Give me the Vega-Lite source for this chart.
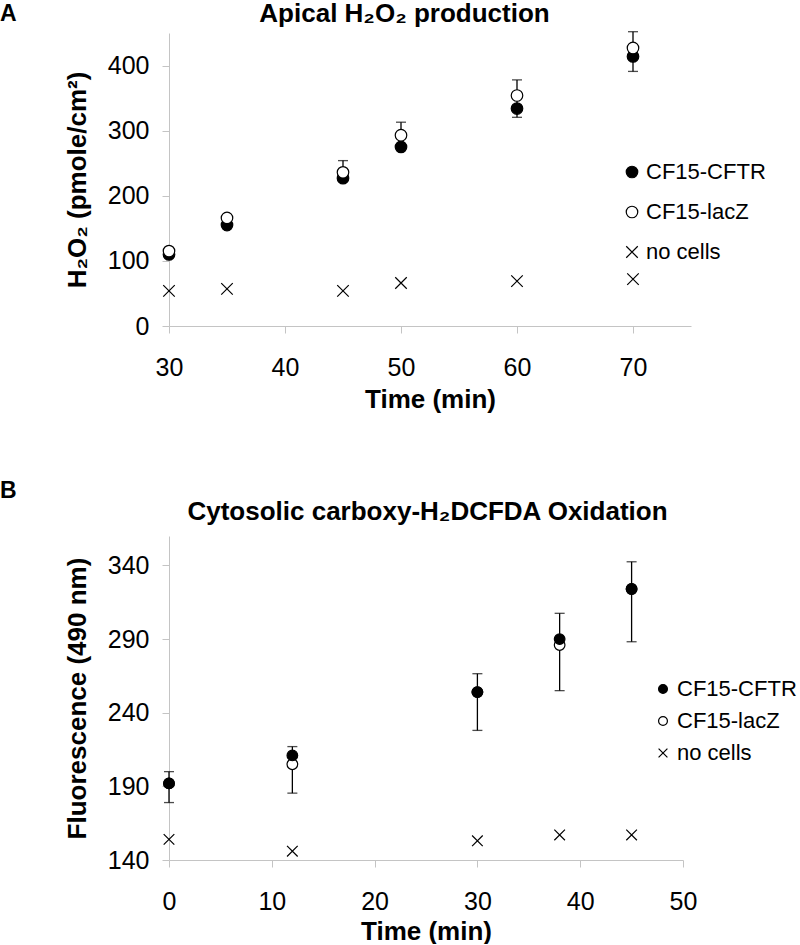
{
  "$schema": "https://vega.github.io/schema/vega-lite/v6.json",
  "background": "white",
  "padding": 0,
  "datasets": {
    "ptsA": [
      {"time": 30, "series": "CF15-CFTR", "value": 110},
      {"time": 35, "series": "CF15-CFTR", "value": 155},
      {"time": 45, "series": "CF15-CFTR", "value": 227},
      {"time": 50, "series": "CF15-CFTR", "value": 275},
      {"time": 60, "series": "CF15-CFTR", "value": 334},
      {"time": 70, "series": "CF15-CFTR", "value": 414},
      {"time": 30, "series": "CF15-lacZ", "value": 115},
      {"time": 35, "series": "CF15-lacZ", "value": 166},
      {"time": 45, "series": "CF15-lacZ", "value": 236},
      {"time": 50, "series": "CF15-lacZ", "value": 293},
      {"time": 60, "series": "CF15-lacZ", "value": 354},
      {"time": 70, "series": "CF15-lacZ", "value": 427},
      {"time": 30, "series": "no cells", "value": 54},
      {"time": 35, "series": "no cells", "value": 57},
      {"time": 45, "series": "no cells", "value": 54},
      {"time": 50, "series": "no cells", "value": 66},
      {"time": 60, "series": "no cells", "value": 69},
      {"time": 70, "series": "no cells", "value": 72}
    ],
    "errA": [
      {"time": 45, "lo": 236, "hi": 254},
      {"time": 50, "lo": 293, "hi": 313},
      {"time": 60, "lo": 320.5, "hi": 378},
      {"time": 70, "lo": 391, "hi": 452}
    ],
    "ptsB": [
      {"time": 0, "series": "CF15-lacZ", "value": 192},
      {"time": 12, "series": "CF15-lacZ", "value": 205},
      {"time": 30, "series": "CF15-lacZ", "value": 254},
      {"time": 38, "series": "CF15-lacZ", "value": 286},
      {"time": 45, "series": "CF15-lacZ", "value": 324},
      {"time": 0, "series": "CF15-CFTR", "value": 192},
      {"time": 12, "series": "CF15-CFTR", "value": 211},
      {"time": 30, "series": "CF15-CFTR", "value": 254},
      {"time": 38, "series": "CF15-CFTR", "value": 290},
      {"time": 45, "series": "CF15-CFTR", "value": 324},
      {"time": 0, "series": "no cells", "value": 154},
      {"time": 12, "series": "no cells", "value": 146},
      {"time": 30, "series": "no cells", "value": 153},
      {"time": 38, "series": "no cells", "value": 157},
      {"time": 45, "series": "no cells", "value": 157}
    ],
    "errB": [
      {"time": 0, "lo": 179, "hi": 200},
      {"time": 12, "lo": 185.4, "hi": 217},
      {"time": 30, "lo": 228, "hi": 266.5},
      {"time": 38, "lo": 255, "hi": 307.5},
      {"time": 45, "lo": 288.2, "hi": 342.5}
    ]
  },
  "config": {
    "view": {"stroke": null},
    "font": "Liberation Sans",
    "axis": {
      "grid": false,
      "labelFlush": false,
      "domainColor": "#c4c4c4",
      "domainWidth": 1,
      "tickColor": "#c4c4c4",
      "tickSize": 7,
      "labelFont": "Liberation Sans",
      "labelFontSize": 25,
      "labelColor": "black",
      "titleFont": "Liberation Sans",
      "titleFontSize": 26,
      "titleFontWeight": "bold",
      "titleColor": "black"
    },
    "axisX": {"labelPadding": 22, "titlePadding": 6},
    "axisY": {"labelPadding": 13, "titlePadding": 17},
    "title": {"font": "Liberation Sans", "fontWeight": "bold", "color": "black"},
    "legend": {
      "labelFont": "Liberation Sans",
      "labelFontSize": 22,
      "labelColor": "black",
      "symbolStrokeColor": "black",
      "symbolStrokeWidth": 1.2,
      "padding": 0
    }
  },
  "spacing": 68,
  "resolve": {
    "scale": {"shape": "independent", "fill": "independent", "stroke": "independent"},
    "legend": {"shape": "independent", "fill": "independent", "stroke": "independent"}
  },
  "vconcat": [
    {
      "width": 522,
      "height": 293,
      "title": {"text": "A", "orient": "left", "anchor": "end", "frame": "bounds", "angle": 0, "align": "right", "baseline": "top", "fontSize": 23, "fontWeight": "bold", "offset": 31, "dy": 3},
      "resolve": {"axis": {"x": "independent"}},
      "layer": [
        {
          "data": {"name": "errA"},
          "mark": {"type": "rule", "color": "black", "strokeWidth": 1.3},
          "encoding": {
            "x": {"field": "time", "type": "quantitative", "scale": {"domain": [30, 75], "nice": false, "zero": false}, "axis": {"orient": "top", "title": "Apical H₂O₂ production", "domain": false, "ticks": false, "labels": false, "titleFontSize": 26, "titlePadding": 7, "titleX": 235}},
            "y": {"field": "lo", "type": "quantitative", "scale": {"domain": [0, 450], "nice": false}, "axis": {"values": [0, 100, 200, 300, 400], "title": "H₂O₂ (pmole/cm²)"}},
            "y2": {"field": "hi"}
          }
        },
        {
          "data": {"name": "errA"},
          "mark": {"type": "tick", "orient": "horizontal", "size": 10, "thickness": 1.3, "color": "black"},
          "encoding": {
            "x": {"field": "time", "type": "quantitative", "scale": {"domain": [30, 75], "nice": false, "zero": false}, "axis": null},
            "y": {"field": "lo", "type": "quantitative", "scale": {"domain": [0, 450], "nice": false}, "axis": {"values": [0, 100, 200, 300, 400], "title": "H₂O₂ (pmole/cm²)"}}
          }
        },
        {
          "data": {"name": "errA"},
          "mark": {"type": "tick", "orient": "horizontal", "size": 10, "thickness": 1.3, "color": "black"},
          "encoding": {
            "x": {"field": "time", "type": "quantitative", "scale": {"domain": [30, 75], "nice": false, "zero": false}, "axis": null},
            "y": {"field": "hi", "type": "quantitative", "scale": {"domain": [0, 450], "nice": false}, "axis": {"values": [0, 100, 200, 300, 400], "title": "H₂O₂ (pmole/cm²)"}}
          }
        },
        {
          "data": {"name": "ptsA"},
          "mark": {"type": "point", "size": 133, "strokeWidth": 1.2, "opacity": 1},
          "encoding": {
            "x": {"field": "time", "type": "quantitative", "scale": {"domain": [30, 75], "nice": false, "zero": false}, "axis": {"values": [30, 40, 50, 60, 70], "title": "Time (min)"}},
            "y": {"field": "value", "type": "quantitative", "scale": {"domain": [0, 450], "nice": false}, "axis": {"values": [0, 100, 200, 300, 400], "title": "H₂O₂ (pmole/cm²)"}},
            "shape": {"field": "series", "type": "nominal", "scale": {"domain": ["CF15-CFTR", "CF15-lacZ", "no cells"], "range": ["circle", "circle", "M-1,-1L1,1M-1,1L1,-1"]}, "legend": {"title": null, "orient": "none", "legendX": 452, "legendY": 128, "rowPadding": 18, "labelOffset": 3, "symbolSize": 133}},
            "fill": {"field": "series", "type": "nominal", "scale": {"domain": ["CF15-CFTR", "CF15-lacZ", "no cells"], "range": ["black", "white", "transparent"]}, "legend": {"title": null, "orient": "none", "legendX": 452, "legendY": 128, "rowPadding": 18, "labelOffset": 3, "symbolSize": 133}},
            "stroke": {"field": "series", "type": "nominal", "scale": {"domain": ["CF15-CFTR", "CF15-lacZ", "no cells"], "range": ["black", "black", "black"]}, "legend": {"title": null, "orient": "none", "legendX": 452, "legendY": 128, "rowPadding": 18, "labelOffset": 3, "symbolSize": 133}}
          }
        }
      ]
    },
    {
      "width": 514,
      "height": 324,
      "title": {"text": "B", "orient": "left", "anchor": "end", "frame": "bounds", "angle": 0, "align": "right", "baseline": "top", "fontSize": 23, "fontWeight": "bold", "offset": 31, "dy": -18},
      "resolve": {"axis": {"x": "independent"}},
      "layer": [
        {
          "data": {"name": "errB"},
          "mark": {"type": "rule", "color": "black", "strokeWidth": 1.3},
          "encoding": {
            "x": {"field": "time", "type": "quantitative", "scale": {"domain": [0, 50], "nice": false, "zero": false}, "axis": {"orient": "top", "title": "Cytosolic carboxy-H₂DCFDA Oxidation", "domain": false, "ticks": false, "labels": false, "titleFontSize": 26, "titlePadding": 12, "titleX": 258}},
            "y": {"field": "lo", "type": "quantitative", "scale": {"domain": [140, 360], "nice": false, "zero": false}, "axis": {"values": [140, 190, 240, 290, 340], "title": "Fluorescence (490 nm)"}},
            "y2": {"field": "hi"}
          }
        },
        {
          "data": {"name": "errB"},
          "mark": {"type": "tick", "orient": "horizontal", "size": 10, "thickness": 1.3, "color": "black"},
          "encoding": {
            "x": {"field": "time", "type": "quantitative", "scale": {"domain": [0, 50], "nice": false, "zero": false}, "axis": null},
            "y": {"field": "lo", "type": "quantitative", "scale": {"domain": [140, 360], "nice": false, "zero": false}, "axis": {"values": [140, 190, 240, 290, 340], "title": "Fluorescence (490 nm)"}}
          }
        },
        {
          "data": {"name": "errB"},
          "mark": {"type": "tick", "orient": "horizontal", "size": 10, "thickness": 1.3, "color": "black"},
          "encoding": {
            "x": {"field": "time", "type": "quantitative", "scale": {"domain": [0, 50], "nice": false, "zero": false}, "axis": null},
            "y": {"field": "hi", "type": "quantitative", "scale": {"domain": [140, 360], "nice": false, "zero": false}, "axis": {"values": [140, 190, 240, 290, 340], "title": "Fluorescence (490 nm)"}}
          }
        },
        {
          "data": {"name": "ptsB"},
          "mark": {"type": "point", "size": 113, "strokeWidth": 1.2, "opacity": 1},
          "encoding": {
            "x": {"field": "time", "type": "quantitative", "scale": {"domain": [0, 50], "nice": false, "zero": false}, "axis": {"values": [0, 10, 20, 30, 40, 50], "title": "Time (min)", "titlePadding": 4}},
            "y": {"field": "value", "type": "quantitative", "scale": {"domain": [140, 360], "nice": false, "zero": false}, "axis": {"values": [140, 190, 240, 290, 340], "title": "Fluorescence (490 nm)"}},
            "shape": {"field": "series", "type": "nominal", "scale": {"domain": ["CF15-CFTR", "CF15-lacZ", "no cells"], "range": ["circle", "circle", "M-1,-1L1,1M-1,1L1,-1"]}, "legend": {"title": null, "orient": "none", "legendX": 483, "legendY": 142, "rowPadding": 10, "labelOffset": 3, "symbolSize": 78}},
            "fill": {"field": "series", "type": "nominal", "scale": {"domain": ["CF15-CFTR", "CF15-lacZ", "no cells"], "range": ["black", "white", "transparent"]}, "legend": {"title": null, "orient": "none", "legendX": 483, "legendY": 142, "rowPadding": 10, "labelOffset": 3, "symbolSize": 78}},
            "stroke": {"field": "series", "type": "nominal", "scale": {"domain": ["CF15-CFTR", "CF15-lacZ", "no cells"], "range": ["black", "black", "black"]}, "legend": {"title": null, "orient": "none", "legendX": 483, "legendY": 142, "rowPadding": 10, "labelOffset": 3, "symbolSize": 78}}
          }
        }
      ]
    }
  ]
}
